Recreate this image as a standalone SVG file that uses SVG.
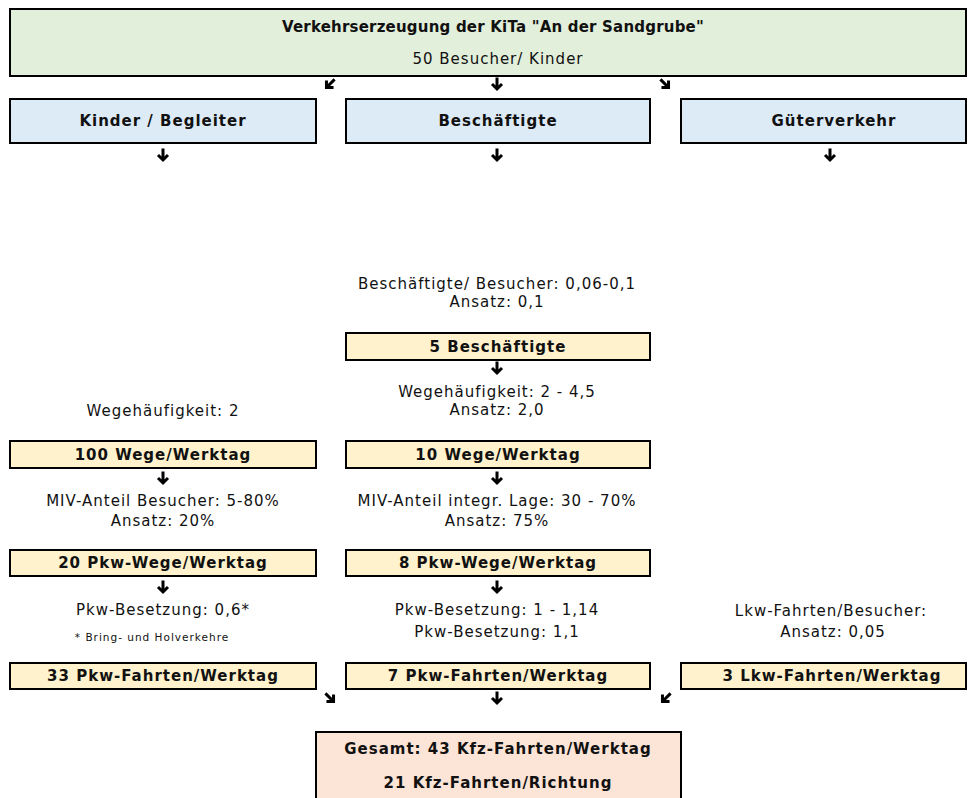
<svg xmlns="http://www.w3.org/2000/svg" width="976" height="798" viewBox="0 0 976 798">
<style>
  .box { stroke: #000; stroke-width: 2; }
  .green { fill: #E2EFDA; }
  .blue { fill: #DDEBF7; }
  .yellow { fill: #FFF2CC; }
  .peach { fill: #FCE4D6; }
  text { font-family: "DejaVu Sans", Verdana, "Liberation Sans", sans-serif; fill: #111; text-anchor: middle; dominant-baseline: central; }
  .b { font-weight: bold; font-size: 15px; letter-spacing: 1px; }
  .title { font-weight: bold; font-size: 15px; letter-spacing: 0.2px; }
  .r { font-size: 15px; letter-spacing: 1px; }
  .s { font-size: 10.5px; letter-spacing: 1px; }
  .arr { fill: none; stroke: #000; stroke-width: 3; stroke-linecap: butt; stroke-linejoin: miter; }
</style>
<defs>
  <g id="down"><path class="arr" d="M0,-6.5 V5 M-5,0 L0,5 L5,0"/></g>
</defs>
<rect width="976" height="798" fill="#fff"/>

<g id="connectors">
  <use href="#down" transform="translate(330,84) rotate(45)"/>
  <use href="#down" transform="translate(497,84)"/>
  <use href="#down" transform="translate(665,84) rotate(-45)"/>
  <use href="#down" transform="translate(163,155)"/>
  <use href="#down" transform="translate(497,155)"/>
  <use href="#down" transform="translate(830,155)"/>
  <use href="#down" transform="translate(497,368)"/>
  <use href="#down" transform="translate(163,478)"/>
  <use href="#down" transform="translate(497,478)"/>
  <use href="#down" transform="translate(163,587)"/>
  <use href="#down" transform="translate(497,587)"/>
  <use href="#down" transform="translate(330,698) rotate(-45)"/>
  <use href="#down" transform="translate(497,698)"/>
  <use href="#down" transform="translate(666,698) rotate(45)"/>
</g>

<g id="top">
  <rect class="box green" x="10" y="9" width="956" height="67"/>
  <text class="title" x="493" y="27">Verkehrserzeugung der KiTa "An der Sandgrube"</text>
  <text class="r" x="498" y="59">50 Besucher/ Kinder</text>
</g>

<g id="kinder">
  <rect class="box blue" x="10" y="99" width="306" height="44"/>
  <text class="b" x="163" y="121">Kinder / Begleiter</text>
</g>
<g id="beschaeftigte">
  <rect class="box blue" x="346" y="99" width="304" height="44"/>
  <text class="b" x="498" y="121">Beschäftigte</text>
</g>
<g id="gueterverkehr">
  <rect class="box blue" x="681" y="99" width="285" height="44"/>
  <text class="b" x="834" y="121">Güterverkehr</text>
</g>

<g id="note-besch">
  <text class="r" x="497" y="284">Beschäftigte/ Besucher: 0,06-0,1</text>
  <text class="r" x="497" y="302">Ansatz: 0,1</text>
</g>
<g id="n5besch">
  <rect class="box yellow" x="346" y="333" width="304" height="27"/>
  <text class="b" x="498" y="347">5 Beschäftigte</text>
</g>
<g id="note-wege-b">
  <text class="r" x="497" y="392">Wegehäufigkeit: 2 - 4,5</text>
  <text class="r" x="497" y="410">Ansatz: 2,0</text>
</g>
<g id="note-wege-k">
  <text class="r" x="163" y="411">Wegehäufigkeit: 2</text>
</g>

<g id="wege-k">
  <rect class="box yellow" x="10" y="441" width="306" height="27"/>
  <text class="b" x="163" y="455">100 Wege/Werktag</text>
</g>
<g id="wege-b">
  <rect class="box yellow" x="346" y="441" width="304" height="27"/>
  <text class="b" x="498" y="455">10 Wege/Werktag</text>
</g>

<g id="note-miv-k">
  <text class="r" x="163" y="501">MIV-Anteil Besucher: 5-80%</text>
  <text class="r" x="163" y="521">Ansatz: 20%</text>
</g>
<g id="note-miv-b">
  <text class="r" x="497" y="501">MIV-Anteil integr. Lage: 30 - 70%</text>
  <text class="r" x="497" y="521">Ansatz: 75%</text>
</g>

<g id="pkwwege-k">
  <rect class="box yellow" x="10" y="550" width="306" height="26"/>
  <text class="b" x="163" y="563">20 Pkw-Wege/Werktag</text>
</g>
<g id="pkwwege-b">
  <rect class="box yellow" x="346" y="550" width="304" height="26"/>
  <text class="b" x="498" y="563">8 Pkw-Wege/Werktag</text>
</g>

<g id="note-bes-k">
  <text class="r" x="163" y="610">Pkw-Besetzung: 0,6*</text>
  <text class="s" x="152" y="637">* Bring- und Holverkehre</text>
</g>
<g id="note-bes-b">
  <text class="r" x="497" y="610">Pkw-Besetzung: 1 - 1,14</text>
  <text class="r" x="497" y="632">Pkw-Besetzung: 1,1</text>
</g>
<g id="note-lkw">
  <text class="r" x="831" y="611">Lkw-Fahrten/Besucher:</text>
  <text class="r" x="833" y="632">Ansatz: 0,05</text>
</g>

<g id="fahrten-k">
  <rect class="box yellow" x="10" y="663" width="306" height="26"/>
  <text class="b" x="163" y="676">33 Pkw-Fahrten/Werktag</text>
</g>
<g id="fahrten-b">
  <rect class="box yellow" x="346" y="663" width="304" height="26"/>
  <text class="b" x="498" y="676">7 Pkw-Fahrten/Werktag</text>
</g>
<g id="fahrten-lkw">
  <rect class="box yellow" x="681" y="663" width="285" height="26"/>
  <text class="b" x="832" y="676">3 Lkw-Fahrten/Werktag</text>
</g>

<g id="gesamt">
  <rect class="box peach" x="316" y="732" width="365" height="80"/>
  <text class="b" x="498" y="749">Gesamt: 43 Kfz-Fahrten/Werktag</text>
  <text class="b" x="498" y="783">21 Kfz-Fahrten/Richtung</text>
</g>
</svg>
